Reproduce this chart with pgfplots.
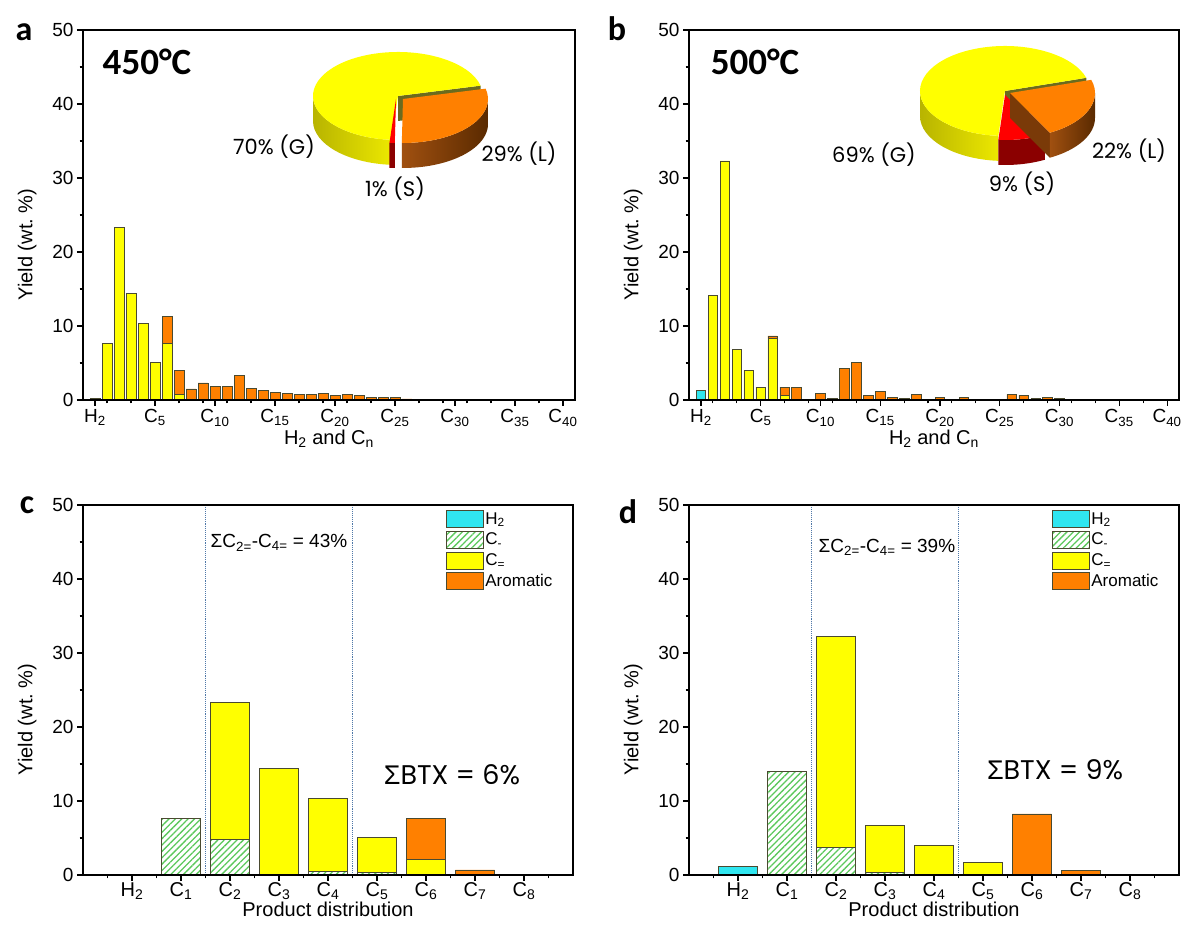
\documentclass[border=0pt]{standalone}
\usepackage{fontspec}
\setmainfont{Liberation Sans}
\newfontfamily\gothic{Poppins}
\newfontfamily\calibri{Carlito}
\usepackage{pgfplots}
\usepackage{pgfplotstable}
\pgfplotsset{compat=1.18}
\usetikzlibrary{patterns.meta}

\definecolor{cy}{HTML}{30E6F0}
\definecolor{ye}{HTML}{FFFF00}
\definecolor{orr}{HTML}{FF8000}
\definecolor{hat}{HTML}{5CC85C}
\definecolor{edge}{HTML}{4A4A30}
\definecolor{dotc}{HTML}{4F78A8}
\definecolor{yeS1}{HTML}{B8B400}
\definecolor{yeS2}{HTML}{ECE800}
\definecolor{orS1}{HTML}{A05010}
\definecolor{orS2}{HTML}{5A2A00}
\definecolor{orC}{HTML}{7A3A08}
\definecolor{reS}{HTML}{8B0000}
\definecolor{olv}{HTML}{6B6B1E}

\pgfplotsset{
  base/.style={
    scale only axis, height=370pt, ymin=0, ymax=50,
    ytick={0,10,...,50}, minor ytick={5,15,...,45},
    tick align=outside, xtick pos=left, ytick pos=left,
    axis on top, axis line style={line width=1.3pt, black},
    major tick length=6pt, minor tick length=3.5pt,
    tick style={line width=1.1pt, black},
    yticklabel style={font=\fontsize{19}{20}\selectfont},
    /pgf/number format/assume math mode=true,
    ylabel={Yield (wt.~\%)},
    label style={font=\fontsize{20}{22}\selectfont},
    ylabel style={at={(ticklabel cs:0.42)}},
    ylabel shift=9pt,
    ybar stacked, bar width=0.8,
  },
  bs/.style={draw=edge, line width=0.6pt},
  legbox/.style={legend image code/.code={\draw[##1] (0pt,-8.5pt) rectangle (37pt,8.5pt);}},
  topx/.style={
    xmin=-1, xmax=40, xtick={0,5,...,35}, minor xtick={1,3,...,39},
    xticklabels={H\textsubscript{2},C\textsubscript{5},C\textsubscript{10},C\textsubscript{15},C\textsubscript{20},C\textsubscript{25},C\textsubscript{30},C\textsubscript{35}},
    extra x ticks={39}, extra x tick labels={C\textsubscript{40}},
    xticklabel style={font=\fontsize{19}{20}\selectfont},
    xlabel={H\textsubscript{2} and C\textsubscript{n}},
    xlabel style={yshift=15pt},
  },
  botx/.style={
    xmin=0, xmax=10, xtick={1,...,9}, minor xtick={0.5,1.5,...,9.5},
    xticklabels={H\textsubscript{2},C\textsubscript{1},C\textsubscript{2},C\textsubscript{3},C\textsubscript{4},C\textsubscript{5},C\textsubscript{6},C\textsubscript{7},C\textsubscript{8}},
    xticklabel style={font=\fontsize{20}{21}\selectfont, yshift=2pt},
    xlabel={Product distribution},
    xlabel style={yshift=5pt},
    legbox,
    legend style={at={(axis cs:7.4,49.3)}, anchor=north west, draw=none, fill=none,
      font=\fontsize{17}{18}\selectfont, row sep=3pt, inner sep=0pt},
    legend cell align=left,
  },
}

\pgfplotstableread{
x h y o
0 0.2 0 0
1 0 7.7 0
2 0 23.3 0
3 0 14.4 0
4 0 10.3 0
5 0 5.1 0
6 0 7.7 3.6
7 0 0.8 3.2
8 0 0 1.5
9 0 0 2.3
10 0 0 1.85
11 0 0 1.85
12 0 0 3.3
13 0 0 1.6
14 0 0 1.25
15 0 0 1.05
16 0 0 0.9
17 0 0 0.8
18 0 0 0.8
19 0 0 0.85
20 0 0 0.65
21 0 0 0.75
22 0 0 0.6
23 0 0 0.3
24 0 0 0.35
25 0 0 0.3
26 0 0 0.15
}\dataA

\pgfplotstableread{
x h y o
0 1.25 0 0
1 0 14.1 0
2 0 32.3 0
3 0 6.8 0
4 0 4.0 0
5 0 1.75 0
6 0 8.3 0.35
7 0 0.6 1.15
8 0 0 1.65
9 0 0 0.05
10 0 0 0.85
11 0 0 0.25
12 0 0 4.3
13 0 0 5.1
14 0 0 0.6
15 0 0 1.2
16 0 0 0.3
17 0 0 0.2
18 0 0 0.8
19 0 0 0.1
20 0 0 0.35
21 0 0 0.05
22 0 0 0.35
23 0 0 0.05
24 0 0 0.02
25 0 0 0.1
26 0 0 0.75
27 0 0 0.65
28 0 0 0.2
29 0 0 0.35
30 0 0 0.2
31 0 0 0.05
32 0 0 0.05
}\dataB

\pgfplotstableread{
x h cs cd ar
1 0.15 0 0 0
2 0 7.7 0 0
3 0 4.8 18.5 0
4 0 0.1 14.3 0
5 0 0.45 9.85 0
6 0 0.4 4.7 0
7 0 0 2.1 5.6
8 0 0 0 0.7
9 0 0 0 0
}\dataC

\pgfplotstableread{
x h cs cd ar
1 1.2 0 0 0
2 0 14.05 0 0
3 0 3.7 28.55 0
4 0 0.3 6.45 0
5 0 0.1 3.85 0
6 0 0 1.67 0
7 0 0 0.1 8.15
8 0 0 0 0.6
9 0 0 0 0
}\dataD

\newcommand{\pd}{25pt}
\newcommand{\side}[5]{\path[#3] (#1:#4 and #5) arc[start angle=#1,end angle=#2,x radius=#4,y radius=#5] -- ++(0,-\pd) arc[start angle=#2,end angle=#1,x radius=#4,y radius=#5] -- cycle;}
\newcommand{\topf}[5]{\path[#3] (0,0) -- (#1:#4 and #5) arc[start angle=#1,end angle=#2,x radius=#4,y radius=#5] -- cycle;}
\newcommand{\cut}[4]{\path[#2] (0,0) -- (#1:#3 and #4) -- ++(0,-\pd) -- (0,-\pd) -- cycle;}

\begin{document}
\begin{tikzpicture}
\useasboundingbox (0,0) rectangle (1187pt,937pt);

% ---------- panel a ----------
\begin{axis}[base, topx, at={(83pt,537pt)}, anchor=south west, width=492pt]
\addplot[fill=cy, bs] table[x=x,y=h]{\dataA};
\addplot[fill=ye, bs] table[x=x,y=y]{\dataA};
\addplot[fill=orr, bs] table[x=x,y=o]{\dataA};
\end{axis}

% ---------- panel b ----------
\begin{axis}[base, topx, at={(689pt,537pt)}, anchor=south west, width=490pt]
\addplot[fill=cy, bs] table[x=x,y=h]{\dataB};
\addplot[fill=ye, bs] table[x=x,y=y]{\dataB};
\addplot[fill=orr, bs] table[x=x,y=o]{\dataB};
\end{axis}

% ---------- panel c ----------
\begin{axis}[base, botx, at={(83pt,62pt)}, anchor=south west, width=490pt]
\addplot[fill=cy, bs, legbox] table[x=x,y=h]{\dataC};
\addplot[pattern={Lines[angle=45,distance=4.5pt,line width=1.3pt]}, pattern color=hat, bs, legbox] table[x=x,y=cs]{\dataC};
\addplot[fill=ye, bs, legbox] table[x=x,y=cd]{\dataC};
\addplot[fill=orr, bs, legbox] table[x=x,y=ar]{\dataC};
\legend{H\textsubscript{2},C\textsubscript{-},C\textsubscript{=},Aromatic}
\draw[dotc, densely dotted, line width=0.9pt] (axis cs:2.5,0) -- (axis cs:2.5,50);
\draw[dotc, densely dotted, line width=0.9pt] (axis cs:5.5,0) -- (axis cs:5.5,50);
\node[font=\fontsize{19}{20}\selectfont] at (axis cs:4.0,44.9) {ΣC\textsubscript{2=}-C\textsubscript{4=} = 43\%};
\node[font=\gothic\fontsize{27}{28}\selectfont] at (axis cs:7.53,13.5) {{\normalfont Σ}BTX = 6\%};
\end{axis}

% ---------- panel d ----------
\begin{axis}[base, botx, at={(689pt,62pt)}, anchor=south west, width=490pt]
\addplot[fill=cy, bs, legbox] table[x=x,y=h]{\dataD};
\addplot[pattern={Lines[angle=45,distance=4.5pt,line width=1.3pt]}, pattern color=hat, bs, legbox] table[x=x,y=cs]{\dataD};
\addplot[fill=ye, bs, legbox] table[x=x,y=cd]{\dataD};
\addplot[fill=orr, bs, legbox] table[x=x,y=ar]{\dataD};
\legend{H\textsubscript{2},C\textsubscript{-},C\textsubscript{=},Aromatic}
\draw[dotc, densely dotted, line width=0.9pt] (axis cs:2.5,0) -- (axis cs:2.5,50);
\draw[dotc, densely dotted, line width=0.9pt] (axis cs:5.5,0) -- (axis cs:5.5,50);
\node[font=\fontsize{19}{20}\selectfont] at (axis cs:4.04,44.3) {ΣC\textsubscript{2=}-C\textsubscript{4=} = 39\%};
\node[font=\gothic\fontsize{27}{28}\selectfont] at (axis cs:7.47,14.2) {{\normalfont Σ}BTX = 9\%};
\end{axis}

% ---------- pies ----------
\begin{scope}[shift={(398pt,841pt)}]
  \side{180}{265.6}{left color=yeS1, right color=yeS2}{85pt}{44pt}
  \cut{13.6}{fill=olv}{85pt}{44pt}
  \topf{13.6}{265.6}{fill=ye}{85pt}{44pt}
  \begin{scope}[shift={(-2pt,-3pt)}]
    \side{265.6}{269.2}{fill=reS}{85pt}{44pt}
    \topf{265.6}{269.2}{fill=red}{85pt}{44pt}
  \end{scope}
  \begin{scope}[shift={(5pt,-3pt)}]
    \side{269.2}{360}{left color=orS1, right color=orS2}{85pt}{44pt}
    \topf{269.2}{373.6}{fill=orr}{85pt}{44pt}
  \end{scope}
\end{scope}

\begin{scope}[shift={(1005pt,846pt)}]
  \side{180}{265.5}{left color=yeS1, right color=yeS2}{85pt}{45pt}
  \cut{17}{fill=olv}{85pt}{45pt}
  \topf{17}{265.5}{fill=ye}{85pt}{45pt}
  \begin{scope}[shift={(0pt,-4pt)}]
    \side{265.5}{298}{fill=reS}{85pt}{45pt}
    \topf{265.5}{298}{fill=red}{85pt}{45pt}
  \end{scope}
  \begin{scope}[shift={(5pt,-2pt)}]
    \cut{298}{fill=orC}{85pt}{45pt}
    \side{298}{360}{left color=orS1, right color=orS2}{85pt}{45pt}
    \topf{298}{377}{fill=orr}{85pt}{45pt}
  \end{scope}
\end{scope}

% ---------- texts ----------
\begin{scope}[every node/.style={font=\gothic\fontsize{21}{22}\selectfont}]
  \node at (274pt,790pt) {70\% (G)};
  \node at (519pt,783pt) {29\% (L)};
  \node at (395pt,748pt) {1\% (S)};
  \node at (874pt,782pt) {69\% (G)};
  \node at (1129pt,786pt) {22\% (L)};
  \node at (1022pt,753pt) {9\% (S)};
\end{scope}
\begin{scope}[every node/.style={font=\calibri\bfseries\fontsize{34}{34}\selectfont}]
  \node at (24pt,905pt) {a};
  \node at (617pt,908pt) {b};
  \node at (27pt,432pt) {c};
  \node at (628pt,425pt) {d};
\end{scope}
\node[font=\calibri\bfseries\fontsize{37}{37}\selectfont] at (147pt,875pt) {450°C};
\node[font=\calibri\bfseries\fontsize{37}{37}\selectfont] at (755pt,875pt) {500°C};
\end{tikzpicture}
\end{document}
